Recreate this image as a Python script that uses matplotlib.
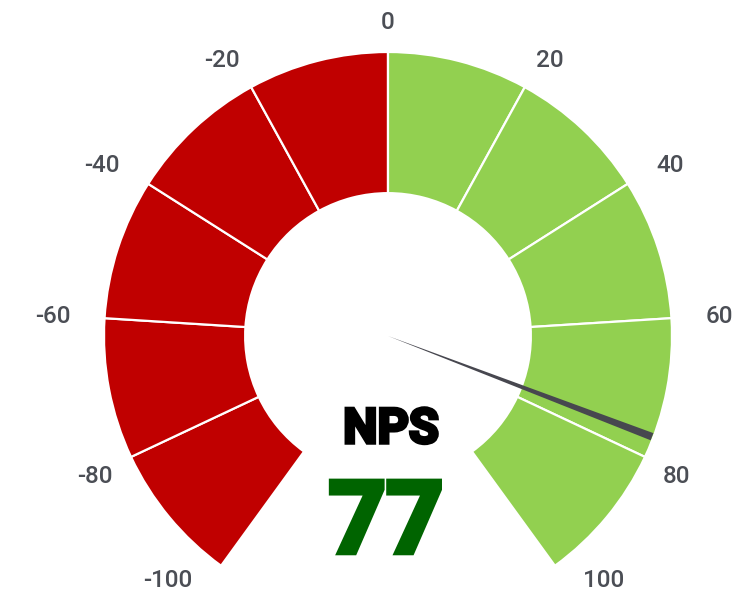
import numpy as np
import matplotlib
matplotlib.use("Agg")
import matplotlib.pyplot as plt
import matplotlib.patheffects as pe
from matplotlib.patches import Wedge, Polygon

# --- DATA ---
tick_values = [-100, -80, -60, -40, -20, 0, 20, 40, 60, 80, 100]
tick_labels = ["-100", "-80", "-60", "-40", "-20", "0", "20", "40", "60", "80", "100"]
segment_colors = ["#C00000"] * 5 + ["#92D050"] * 5
nps_value = 77
title_text = "NPS"

# gauge covers 288 degrees (0.8 of a circle), 0 at the top
SPAN = 288.0


def dial(v):
    """Value -> clockwise angle from the top, degrees."""
    return v / 100.0 * SPAN / 2.0


def mpl_angle(v):
    return 90.0 - dial(v)


fig = plt.figure(figsize=(7.39, 5.94), dpi=100)
ax = fig.add_axes([0, 0, 1, 1])
ax.set_xlim(-388 / 284, (739 - 388) / 284)
ax.set_ylim(-(594 - 336) / 284, 336 / 284)
ax.set_aspect("equal")
ax.axis("off")

# --- segments ---
for i in range(len(tick_values) - 1):
    v0, v1 = tick_values[i], tick_values[i + 1]
    ax.add_patch(Wedge((0, 0), 1.0, mpl_angle(v1), mpl_angle(v0), width=0.497,
                       facecolor=segment_colors[i], edgecolor="white", linewidth=1.6))

# --- tick labels: nearest corner of the text box sits on a circle ---
for v, lab in zip(tick_values, tick_labels):
    d = np.clip(dial(v), -140, 140)   # keep the end labels inside the frame
    a = np.deg2rad(90 - d)
    if abs(d) < 45:
        va, r = "baseline", 1.08
    elif abs(d) < 100:
        va, r = "center", 1.12
    else:
        va, r = "top", 1.07
    x, y = r * np.cos(a), r * np.sin(a)
    ha = "left" if d > 0 else ("right" if d < 0 else "center")
    ax.text(x, y, lab, ha=ha, va=va, fontsize=17.5, fontweight="medium",
            color="#4b4e55", family="Roboto")

# --- needle ---
a = np.deg2rad(mpl_angle(nps_value))
tip = np.array([np.cos(a), np.sin(a)]) * 0.995
perp = np.array([-np.sin(a), np.cos(a)]) * 0.0135
ax.add_patch(Polygon([(0, 0), tip + perp, tip - perp], closed=True,
                     facecolor="#47474f", edgecolor="none", zorder=5))

# --- centre text (stroke to get a heavy face) ---
ax.text(3 / 284, -(430 - 336) / 284, title_text, ha="center", va="center",
        fontsize=35, fontweight="bold", color="black", family="Roboto",
        path_effects=[pe.withStroke(linewidth=2.5, foreground="black", joinstyle="miter")])
ax.text(-2 / 284, -(525 - 336) / 284, str(nps_value), ha="center", va="center",
        fontsize=72, fontweight="bold", color="#006400", family="Roboto",
        path_effects=[pe.withStroke(linewidth=4, foreground="#006400", joinstyle="miter")])

fig.savefig("out.png", dpi=100)
